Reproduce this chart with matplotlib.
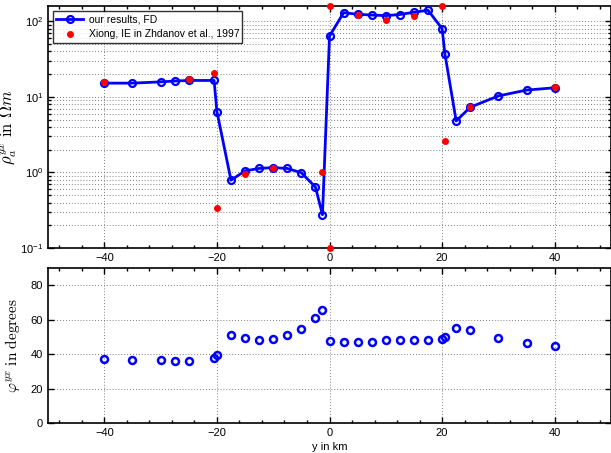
import numpy as np
import matplotlib
matplotlib.use("Agg")
import matplotlib.pyplot as plt
from matplotlib.ticker import MultipleLocator, LogLocator, NullFormatter

plt.rcParams['font.family'] = ['Liberation Sans', 'DejaVu Sans']
plt.rcParams['mathtext.fontset'] = 'cm'

# ---- data ----
y_km = [-40, -35, -30, -27.5, -25, -20.5, -20, -17.5, -15, -12.5, -10, -7.5, -5,
        -2.5, -1.25, 0, 2.5, 5, 7.5, 10, 12.5, 15, 17.5, 20, 20.5, 22.5, 25, 30, 35, 40]
rho_fd = [15.2, 15.2, 15.8, 16.2, 16.5, 16.5, 6.4, 0.79, 1.05, 1.13, 1.16, 1.13, 0.99,
          0.64, 0.276, 63.8, 130, 124, 121, 119, 123, 132, 140, 80, 37, 4.8, 7.3,
          10.3, 12.3, 13.2]
phi_fd = [37.1, 36.5, 36.5, 36.1, 36.1, 37.9, 39.4, 51.3, 49.5, 48.5, 48.9, 50.9, 54.6,
          60.8, 65.6, 47.6, 47.0, 47.4, 47.4, 48.0, 48.0, 48.5, 48.5, 48.9, 50.1, 55.1,
          53.8, 49.3, 46.6, 44.9]

y_ie = [-40, -25, -20.5, -20, -15, -10, -1.25, 0, 0, 5, 10, 15, 20, 20.5, 25, 40]
rho_ie = [15.5, 17.0, 20.6, 0.34, 0.95, 1.13, 1.0, 160, 0.1, 121, 105, 116, 160, 2.6,
          7.4, 13.4]

xticks = [-40, -20, 0, 20, 40]

fig = plt.figure(figsize=(6.11, 4.53), dpi=100)
ax1 = fig.add_axes([0.0786, 0.4525, 0.9214, 0.5345])
ax2 = fig.add_axes([0.0786, 0.066, 0.9214, 0.342])

blue = '#0000ff'
red = '#ff0000'
gridstyle = dict(ls=(0, (1, 2.5)), color='#555555', lw=0.6)

ax1.plot(y_km, rho_fd, '-o', color=blue, lw=2, ms=5, mfc='none', mew=1.6,
         label='our results, FD', zorder=3)
ax1.plot(y_ie, rho_ie, 'o', color=red, ms=4, ls='none',
         label='Xiong, IE in Zhdanov et al., 1997', zorder=4, clip_on=False)
ax1.set_yscale('log')
ax1.set_ylim(0.1, 160)
ax1.set_xlim(-50, 50)
ax1.set_xticks(xticks)
ax1.xaxis.set_minor_locator(MultipleLocator(4))
ax1.yaxis.set_major_locator(LogLocator(base=10, numticks=10))
ax1.yaxis.set_minor_locator(LogLocator(base=10, subs=np.arange(2, 10), numticks=20))
ax1.yaxis.set_minor_formatter(NullFormatter())
ax1.grid(True, which='major', **gridstyle)
ax1.grid(True, which='minor', axis='y', **gridstyle)
ax1.set_ylabel(r'$\rho_a^{yx}\ \mathrm{in}\ \Omega m$', fontsize=12, labelpad=1)
leg = ax1.legend(loc='upper left', fontsize=7.5, frameon=True, fancybox=False,
                 edgecolor='black', borderpad=0.3, handlelength=2.6,
                 handletextpad=0.5, borderaxespad=0.5,
                 bbox_to_anchor=(0.0, 1.0))
leg.get_frame().set_linewidth(1.0)

ax2.plot(y_km, phi_fd, 'o', color=blue, ms=5, mfc='none', mew=1.8, ls='none')
ax2.set_xlim(-50, 50)
ax2.set_ylim(0, 90)
ax2.set_xticks(xticks)
ax2.set_yticks([0, 20, 40, 60, 80])
ax2.xaxis.set_minor_locator(MultipleLocator(4))
ax2.grid(True, which='major', **gridstyle)
ax2.set_ylabel(r'$\varphi^{yx}\ \mathrm{in\ degrees}$', fontsize=11, labelpad=6)
ax2.set_xlabel('y in km', fontsize=8, labelpad=3)

for ax in (ax1, ax2):
    ax.tick_params(which='both', direction='in', top=True, right=True,
                   labelsize=8, width=1)
    ax.tick_params(which='major', length=4)
    ax.tick_params(which='minor', length=2)
    for s in ax.spines.values():
        s.set_linewidth(1.2)
    ax.set_axisbelow(True)

fig.savefig('out.png', dpi=100)
